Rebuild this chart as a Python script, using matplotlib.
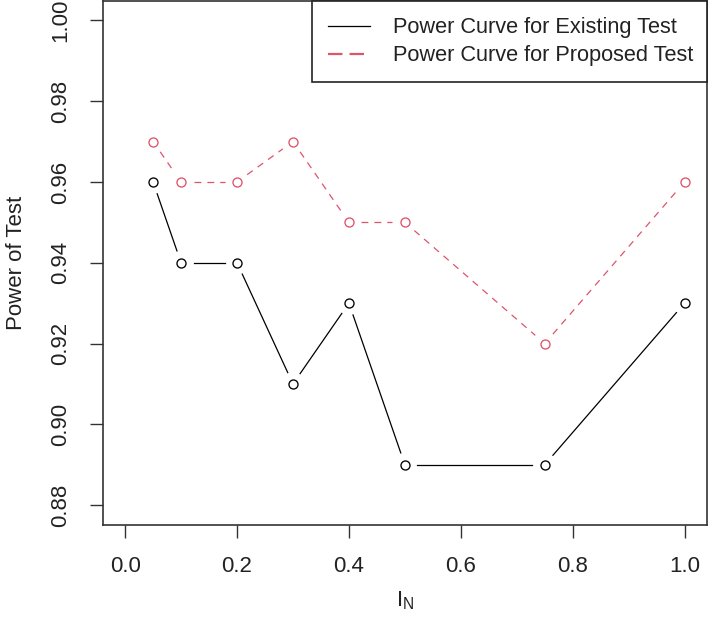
import numpy as np
import matplotlib
matplotlib.use("Agg")
import matplotlib.pyplot as plt

plt.rcParams['font.family'] = ['Liberation Sans', 'DejaVu Sans']
plt.rcParams['mathtext.fontset'] = 'custom'
plt.rcParams['mathtext.rm'] = 'Liberation Sans'

# data
l_n = [0.05, 0.1, 0.2, 0.3, 0.4, 0.5, 0.75, 1.0]
power_existing = [0.96, 0.94, 0.94, 0.91, 0.93, 0.89, 0.89, 0.93]
power_proposed = [0.97, 0.96, 0.96, 0.97, 0.95, 0.95, 0.92, 0.96]
x_ticks = [0.0, 0.2, 0.4, 0.6, 0.8, 1.0]
y_ticks = [0.88, 0.90, 0.92, 0.94, 0.96, 0.98, 1.00]

red = '#DF536B'
txt = '#222222'

fig = plt.figure(figsize=(7.08, 6.28), dpi=100)
ax = fig.add_axes([0.1451, 0.1648, 0.8535, 0.8336])
ax.set_xlim(-0.04, 1.04)
ax.set_ylim(0.8752, 1.0048)


def gapped(ax, x, y, gap=12.5, **kw):
    # R type="b": segments stop short of the points
    pts = ax.transData.transform(np.column_stack([x, y]))
    inv = ax.transData.inverted()
    for p, q in zip(pts[:-1], pts[1:]):
        d = q - p
        n = np.hypot(*d)
        if n <= 2 * gap:
            continue
        u = d / n
        seg = inv.transform(np.array([p + u * gap, q - u * gap]))
        ax.plot(seg[:, 0], seg[:, 1], **kw)


gapped(ax, l_n, power_existing, color='black', lw=0.9)
gapped(ax, l_n, power_proposed, color=red, lw=0.9, dashes=(5.5, 4.8))
ax.plot(l_n, power_existing, 'o', ms=6.5, mfc='none', mec='black', mew=0.95)
ax.plot(l_n, power_proposed, 'o', ms=6.5, mfc='none', mec=red, mew=0.95)

# legend handles (R style box in the top right corner)
h1, = ax.plot([], [], color='black', lw=0.9)
h2, = ax.plot([], [], color=red, lw=1.6, dashes=(6.5, 3.2))
leg = ax.legend([h1, h2], ['Power Curve for Existing Test', 'Power Curve for Proposed Test'],
                loc='upper left', bbox_to_anchor=(0.3464, 0.8453, 0.6536, 0.1547),
                mode='expand', borderaxespad=0, fancybox=False, edgecolor='#222222',
                fontsize=15.7, handlelength=1.9, handletextpad=1.05, borderpad=0.74,
                labelspacing=0.33, framealpha=1)
leg.get_frame().set_linewidth(1.2)
for t in leg.get_texts():
    t.set_color(txt)

ax.set_xticks(x_ticks)
ax.set_xticklabels([f'{v:.1f}' for v in x_ticks])
ax.set_yticks(y_ticks)
ax.set_yticklabels([f'{v:.2f}' for v in y_ticks], rotation=90, va='center')
ax.tick_params(length=9.5, width=1.0, pad=13, labelsize=16, colors='#333333',
               labelcolor=txt)

for s in ax.spines.values():
    s.set_linewidth(1.2)
    s.set_color('#333333')

ax.set_ylabel('Power of Test', fontsize=16, color=txt, labelpad=17)
ax.set_xlabel(r'$\mathregular{I_N}$', fontsize=16, color=txt, labelpad=9)

fig.savefig('out.png', dpi=100)
